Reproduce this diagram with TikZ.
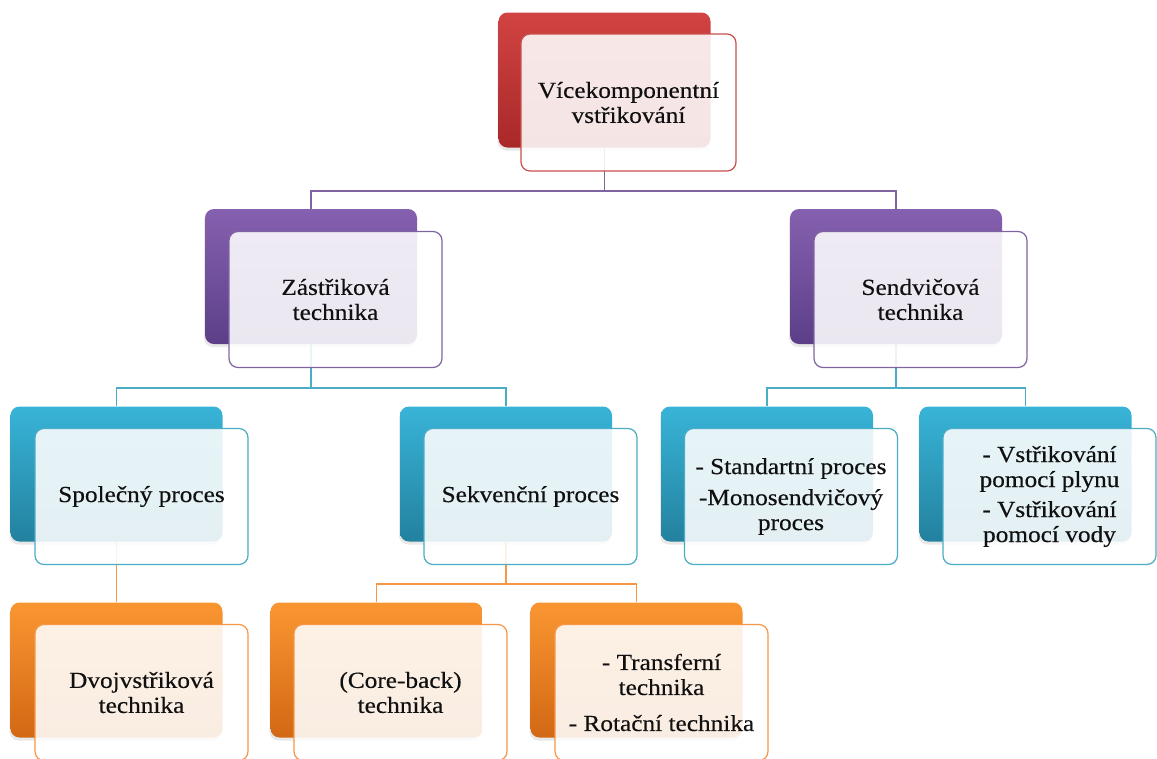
\documentclass[tikz,border=0pt]{standalone}
\usepackage{fontspec}
\setmainfont{Liberation Serif}[FakeStretch=1.1,FakeBold=0.35]
\usetikzlibrary{backgrounds,shadows}
\definecolor{redA}{HTML}{D24343}
\definecolor{redB}{HTML}{A92828}
\definecolor{redL}{HTML}{C9504D}
\definecolor{purA}{HTML}{8660B0}
\definecolor{purB}{HTML}{5C3F88}
\definecolor{purL}{HTML}{8064A2}
\definecolor{bluA}{HTML}{38B4D8}
\definecolor{bluB}{HTML}{23819E}
\definecolor{bluL}{HTML}{4BACC6}
\definecolor{orA}{HTML}{FA9632}
\definecolor{orB}{HTML}{D26814}
\definecolor{orL}{HTML}{F79646}
\definecolor{txt}{HTML}{101010}
\tikzset{
  backbox/.style={rectangle, rounded corners=9pt, minimum width=212pt, minimum height=135pt,
    inner sep=0pt, draw=none, drop shadow={opacity=0.18, shadow xshift=-1pt, shadow yshift=-3pt}},
  redback/.style={backbox, top color=redA, bottom color=redB},
  purback/.style={backbox, top color=purA, bottom color=purB},
  bluback/.style={backbox, top color=bluA, bottom color=bluB},
  orback/.style={backbox, top color=orA, bottom color=orB},
  frontbox/.style={rectangle, rounded corners=9pt, minimum width=213pt, minimum height=136pt,
    inner sep=2pt, line width=1.2pt, fill=white, fill opacity=0.88, text opacity=1,
    align=center, font=\fontsize{23}{25}\selectfont, text=txt},
  redfront/.style={frontbox, draw=redL},
  purfront/.style={frontbox, draw=purL},
  blufront/.style={frontbox, draw=bluL},
  orfront/.style={frontbox, draw=orL},
  link/.style={line width=1.2pt},
}
\begin{document}
\begin{tikzpicture}[x=1pt,y=-1pt]
\useasboundingbox (0,0) rectangle (1157,758);
% level 1
\node[redback] (tb) at (604.5,80) {};
\node[redfront, minimum width=215pt, minimum height=137pt] (tf) at (628.5,102.5) {Vícekomponentní\\vstřikování};
% level 2
\node[purback] (zb) at (311,276.5) {};
\node[purfront] (zf) at (335.5,299.5) {Zástřiková\\technika};
\node[purback] (sb) at (896,276.5) {};
\node[purfront] (sf) at (920.5,299.5) {Sendvičová\\technika};
% level 3
\node[bluback] (spb) at (116.5,474) {};
\node[blufront] (spf) at (141.5,496.5) {Společný proces};
\node[bluback] (skb) at (506,474) {};
\node[blufront] (skf) at (530.5,496.5) {Sekvenční proces};
\node[bluback] (stb) at (767,474) {};
\node[blufront] (stf) at (791,496.5) {- Standartní proces\\[6pt]-Monosendvičový\\proces};
\node[bluback] (vsb) at (1025.5,474) {};
\node[blufront] (vsf) at (1049.5,496.5) {- Vstřikování\\pomocí plynu\\[5pt]- Vstřikování\\pomocí vody};
% level 4
\node[orback] (dvb) at (116.5,670) {};
\node[orfront] (dvf) at (141.5,692.5) {Dvojvstřiková\\technika};
\node[orback] (cob) at (376.5,670) {};
\node[orfront] (cof) at (400.5,692.5) {(Core-back)\\technika};
\node[orback] (trb) at (636.5,670) {};
\node[orfront] (trf) at (661.5,692.5) {- Transferní\\technika\\[11pt]- Rotační technika};
% connectors
\coordinate (j1) at (604.5,191);
\coordinate (j2) at (311,388);
\coordinate (j3) at (896,388);
\coordinate (j4) at (506,584);
\begin{scope}[on background layer]
\draw[link,purL] (tb.south) -- (j1) -| (zb.north);
\draw[link,purL] (j1) -| (sb.north);
\draw[link,bluL] (zb.south) -- (j2) -| (spb.north);
\draw[link,bluL] (j2) -| (skb.north);
\draw[link,bluL] (sb.south) -- (j3) -| (stb.north);
\draw[link,bluL] (j3) -| (vsb.north);
\draw[link,orL] (spb.south) -- (dvb.north);
\draw[link,orL] (skb.south) -- (j4) -| (cob.north);
\draw[link,orL] (j4) -| (trb.north);
\end{scope}
\end{tikzpicture}
\end{document}
